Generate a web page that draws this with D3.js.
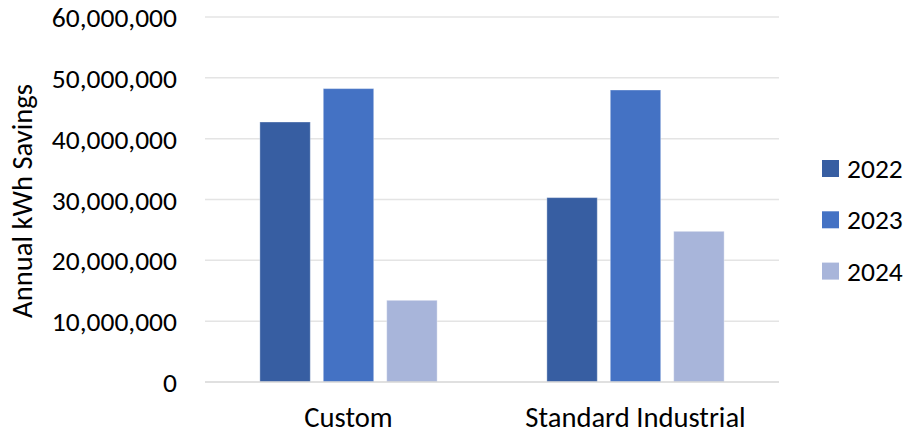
<!DOCTYPE html>
<html>
<head>
<meta charset="utf-8">
<script src="https://cdn.jsdelivr.net/npm/d3@7"></script>
<style>
  html, body { margin: 0; padding: 0; background: #fff; }
  svg { display: block; }
  text { font-family: Carlito, Calibri, Lato, "Open Sans", sans-serif; fill: #000; }
</style>
</head>
<body>
<svg id="chart" width="906" height="436"></svg>
<script>
const categories = ["Custom", "Standard Industrial"];
const years = ["2022", "2023", "2024"];
const values2022 = [42740000, 30310000];
const values2023 = [48230000, 48000000];
const values2024 = [13430000, 24770000];
const yTicks = [0, 10000000, 20000000, 30000000, 40000000, 50000000, 60000000];
const colors = ["#375EA2", "#4472C4", "#A8B5DA"];
const yTitle = "Annual kWh Savings";

const series = [values2022, values2023, values2024];
const data = categories.map((c, i) => ({
  category: c,
  values: years.map((yr, j) => ({ year: yr, value: series[j][i], color: colors[j] }))
}));

const svg = d3.select("#chart");
const plotLeft = 205, plotRight = 779, plotTop = 17, plotBottom = 382;
const tickFont = 27.5;
const labelFont = 28.6;
const fontFam = "Carlito, Calibri, Lato, 'Open Sans', sans-serif";

const y = d3.scaleLinear().domain([0, 60000000]).range([plotBottom, plotTop]);
const x0 = d3.scaleBand().domain(categories).range([plotLeft, plotRight]).padding(0);
const x1 = d3.scaleBand().domain(years).range([0, x0.bandwidth()])
  .paddingInner(0.205).paddingOuter(0.865);

// gridlines
svg.append("g").selectAll("line").data(yTicks.filter(d => d > 0)).join("line")
  .attr("x1", plotLeft).attr("x2", plotRight)
  .attr("y1", d => y(d)).attr("y2", d => y(d))
  .attr("stroke", "#e4e4e4").attr("stroke-width", 1.5);

// y-axis labels
const yAxis = d3.axisLeft(y).tickValues(yTicks).tickSize(0).tickPadding(0)
  .tickFormat(d3.format(","));
const yg = svg.append("g").attr("transform", "translate(177,0)").call(yAxis);
yg.select(".domain").remove();
yg.selectAll("text").attr("font-size", tickFont).attr("dy", "0.35em")
  .style("font-family", fontFam).attr("fill", "#000");

// bars
const groups = svg.append("g").selectAll("g").data(data).join("g")
  .attr("transform", d => `translate(${x0(d.category)},0)`);
groups.selectAll("rect").data(d => d.values).join("rect")
  .attr("x", d => x1(d.year))
  .attr("y", d => y(d.value))
  .attr("width", x1.bandwidth())
  .attr("height", d => y(0) - y(d.value))
  .attr("fill", d => d.color)
  .attr("stroke", "rgba(255,255,255,0.35)")
  .attr("stroke-width", 1);

// baseline
svg.append("line").attr("x1", plotLeft).attr("x2", plotRight)
  .attr("y1", y(0)).attr("y2", y(0))
  .attr("stroke", "#d6d6d6").attr("stroke-width", 1.5);

// x-axis labels
const xAxis = d3.axisBottom(x0).tickSize(0).tickPadding(0);
const xg = svg.append("g").attr("transform", "translate(0,417)").call(xAxis);
xg.select(".domain").remove();
xg.selectAll("text").attr("font-size", labelFont).attr("dy", "0.35em").attr("y", 0)
  .style("font-family", fontFam).attr("fill", "#000");

// y title
svg.append("text")
  .attr("transform", "translate(22,201) rotate(-90)")
  .attr("text-anchor", "middle").attr("dy", "0.35em")
  .attr("font-size", labelFont)
  .text(yTitle);

// legend
const legend = svg.append("g").selectAll("g").data(years).join("g")
  .attr("transform", (d, i) => `translate(822,${160 + i * 51.3})`);
legend.append("rect").attr("width", 17).attr("height", 17)
  .attr("fill", (d, i) => colors[i]);
legend.append("text").attr("x", 25).attr("y", 8.5).attr("dy", "0.35em")
  .attr("font-size", tickFont).text(d => d);
</script>
</body>
</html>
